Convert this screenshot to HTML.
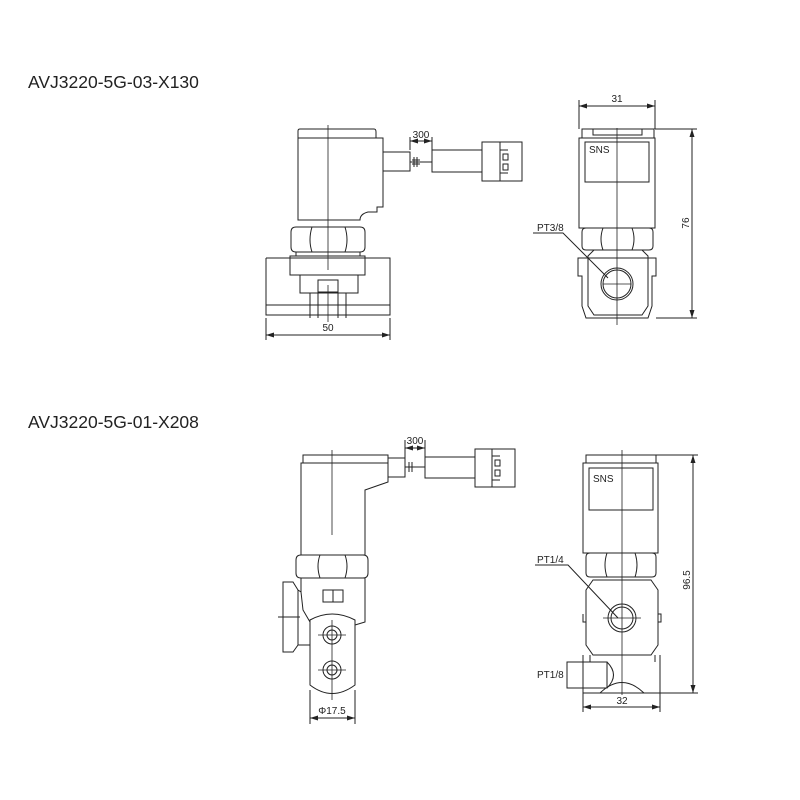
<!DOCTYPE html>
<html><head><meta charset="utf-8"><style>
body{margin:0;background:#fff}
svg{display:block}
text{font-family:"Liberation Sans",sans-serif;fill:#222}
</style></head><body>
<svg width="800" height="800" viewBox="0 0 800 800" xmlns="http://www.w3.org/2000/svg">
<defs><marker id="a" markerWidth="8" markerHeight="6" refX="8" refY="3" orient="auto-start-reverse"><path d="M0,0.5 L8,3 L0,5.5" fill="#222"/></marker></defs>
<rect width="800" height="800" fill="#fff"/>
<text x="28" y="88" font-size="17.5">AVJ3220-5G-03-X130</text>
<text x="28" y="428" font-size="17.5">AVJ3220-5G-01-X208</text>
<g fill="none" stroke="#222" stroke-width="1">
<!-- TOP LEFT -->
<path d="M298,138 L298,131 Q298,129 300,129 L374,129 Q376,129 376,132 L376,138"/>
<path d="M298,138 L383,138 L383,207 L377,207 L377,212 L368,212 Q360,214 360,220 L298,220 Z"/>
<rect x="383" y="152" width="27" height="19"/>
<path d="M410,162 L432,162 M414,157 L414,167 M417,157 L417,167 M412,160 L420,160 M412,164 L420,164"/>
<rect x="432" y="150" width="50" height="22"/>
<rect x="482" y="142" width="40" height="39"/>
<path d="M500,142 L500,181 M500,150 L508,150 M500,173 L508,173 M503,154 h5 v6 h-5 z M503,164 h5 v6 h-5 z"/>
<path d="M410,150 L410,137 M432,150 L432,137"/>
<path d="M410,141 L432,141" marker-start="url(#a)" marker-end="url(#a)"/>
<path d="M291,232 Q291,227 296,227 L360,227 Q365,227 365,232 L365,247 Q365,252 360,252 L296,252 Q291,252 291,247 Z"/>
<path d="M312,227 Q308,240 312,252 M345,227 Q349,240 345,252"/>
<rect x="296" y="252" width="64" height="4"/>
<path d="M266,258 L266,315 L390,315 L390,258 L266,258 M266,305 L390,305"/>
<rect x="290" y="256" width="75" height="19"/>
<path d="M300,275 L300,293 L310,293 L310,318 M358,275 L358,293 L346,293 L346,318 M300,293 L358,293 M318,293 L318,318 M338,293 L338,318"/>
<rect x="318" y="280" width="20" height="12"/>
<path d="M328,125 L328,270 M328,285 L328,322" stroke-width="0.8"/>
<path d="M266,318 L266,340 M390,318 L390,340"/>
<path d="M266,335 L390,335" marker-start="url(#a)" marker-end="url(#a)"/>
<!-- TOP RIGHT -->
<path d="M579,129 L579,100 M655,129 L655,100"/>
<path d="M579,106 L655,106" marker-start="url(#a)" marker-end="url(#a)"/>
<rect x="582" y="129" width="72" height="9"/>
<path d="M593,129 L593,135 L642,135 L642,129"/>
<rect x="579" y="138" width="76" height="90"/>
<rect x="585" y="142" width="64" height="40"/>
<path d="M582,232 Q582,228 586,228 L649,228 Q653,228 653,232 L653,246 Q653,250 649,250 L586,250 Q582,250 582,246 Z"/>
<path d="M603,228 Q599,239 603,250 M632,228 Q636,239 632,250"/>
<path d="M578,258 L578,276 L582,276 L582,306 L586,318 L648,318 L652,306 L652,276 L656,276 L656,258 Z"/>
<path d="M588,256 L594,250 L642,250 L648,256 L648,306 L642,315 L594,315 L588,306 Z"/>
<circle cx="617" cy="284" r="16"/><circle cx="617" cy="284" r="14"/>
<path d="M603,284 L631,284 M617,128 L617,325" stroke-width="0.8"/>
<path d="M533,233 L563,233 L608,278"/>
<path d="M655,129 L697,129 M656,318 L697,318"/>
<path d="M692,129 L692,318" marker-start="url(#a)" marker-end="url(#a)"/>
<!-- BOTTOM LEFT -->
<rect x="303" y="455" width="85" height="8"/>
<path d="M301,463 L388,463 L388,482 L365,490 L365,555 L301,555 Z"/>
<rect x="388" y="458" width="17" height="19"/>
<path d="M405,467 L425,467 M409,462 L409,472 M412,462 L412,472"/>
<rect x="425" y="457" width="50" height="21"/>
<rect x="475" y="449" width="40" height="38"/>
<path d="M492,449 L492,487 M492,456 L500,456 M492,480 L500,480 M495,460 h5 v6 h-5 z M495,470 h5 v6 h-5 z"/>
<path d="M405,458 L405,440 M425,457 L425,440"/>
<path d="M405,448 L425,448" marker-start="url(#a)" marker-end="url(#a)"/>
<path d="M296,560 Q296,555 301,555 L363,555 Q368,555 368,560 L368,573 Q368,578 363,578 L301,578 Q296,578 296,573 Z"/>
<path d="M320,555 Q316,566 320,578 M345,555 Q349,566 345,578"/>
<path d="M301,578 L365,578 L365,622 L355,625 M301,578 L301,592 L303,610 L310,622"/>
<path d="M283,582 L293,582 L298,590 L298,645 L293,652 L283,652 Z M298,590 L301,592 M298,645 L310,645"/>
<path d="M278,617 L300,617"/>
<rect x="323" y="590" width="20" height="12"/><path d="M333,590 L333,602"/>
<path d="M310,620 Q332,608 355,620 L355,685 Q332,702 310,685 Z"/>
<circle cx="332" cy="635" r="9"/><circle cx="332" cy="635" r="5"/>
<circle cx="332" cy="670" r="9"/><circle cx="332" cy="670" r="5"/>
<path d="M318,635 L346,635 M318,670 L346,670 M332,450 L332,535 M332,620 L332,700" stroke-width="0.8"/>
<path d="M310,690 L310,724 M355,690 L355,724"/>
<path d="M310,718 L355,718" marker-start="url(#a)" marker-end="url(#a)"/>
<!-- BOTTOM RIGHT -->
<rect x="586" y="455" width="70" height="8"/>
<rect x="583" y="463" width="75" height="90"/>
<rect x="589" y="468" width="64" height="42"/>
<path d="M586,557 Q586,553 590,553 L652,553 Q656,553 656,557 L656,573 Q656,577 652,577 L590,577 Q586,577 586,573 Z"/>
<path d="M607,553 Q603,565 607,577 M635,553 Q639,565 635,577"/>
<path d="M593,580 L651,580 L658,590 L658,645 L651,655 L593,655 L586,645 L586,590 Z"/>
<path d="M583,614 L583,622 L586,622 M658,614 L661,614 L661,622 L658,622"/>
<circle cx="622" cy="618" r="14"/><circle cx="622" cy="618" r="11"/>
<path d="M603,618 L641,618 M622,450 L622,695" stroke-width="0.8"/>
<path d="M583,655 L583,693 L660,693 L660,655 M590,655 L590,662 M655,655 L655,662"/>
<path d="M600,693 Q622,672 644,693"/>
<rect x="567" y="662" width="40" height="26"/>
<path d="M607,662 Q620,675 607,688"/>
<path d="M583,693 L583,712 M660,693 L660,712"/>
<path d="M583,707 L660,707" marker-start="url(#a)" marker-end="url(#a)"/>
<path d="M656,455 L698,455 M660,693 L698,693"/>
<path d="M693,455 L693,693" marker-start="url(#a)" marker-end="url(#a)"/>
<path d="M535,565 L568,565 L618,618"/>
</g>
<g font-size="10">
<text x="421" y="138" text-anchor="middle">300</text>
<text x="328" y="331" text-anchor="middle">50</text>
<text x="617" y="102" text-anchor="middle">31</text>
<text x="589" y="153">SNS</text>
<text x="537" y="231">PT3/8</text>
<text x="689" y="223" text-anchor="middle" transform="rotate(-90 689 223)">76</text>
<text x="415" y="444" text-anchor="middle">300</text>
<text x="332" y="714" text-anchor="middle">Φ17.5</text>
<text x="593" y="482">SNS</text>
<text x="537" y="563">PT1/4</text>
<text x="537" y="678">PT1/8</text>
<text x="622" y="704" text-anchor="middle">32</text>
<text x="690" y="580" text-anchor="middle" transform="rotate(-90 690 580)">96.5</text>
</g>
</svg>
</body></html>
